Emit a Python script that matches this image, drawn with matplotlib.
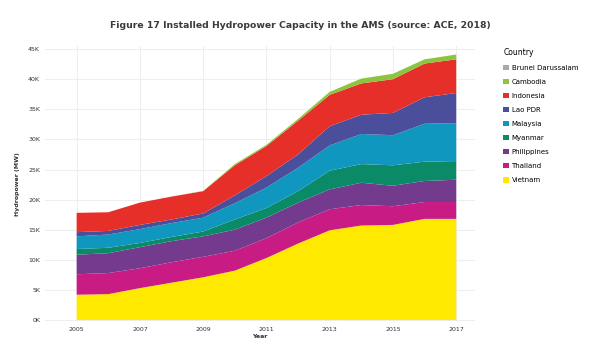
import numpy as np
import matplotlib.pyplot as plt
from matplotlib.patches import Patch
from matplotlib.ticker import FuncFormatter

years = list(range(2005, 2018))

# installed capacity in thousand MW, bottom layer first
vietnam = [4.2, 4.3, 5.3, 6.2, 7.1, 8.2, 10.3, 12.7, 14.9, 15.7, 15.8, 16.8, 16.8]
thailand = [3.4, 3.5, 3.3, 3.4, 3.4, 3.3, 3.3, 3.5, 3.5, 3.4, 3.1, 2.8, 2.8]
philippines = [3.25, 3.3, 3.5, 3.5, 3.4, 3.5, 3.4, 3.3, 3.3, 3.7, 3.4, 3.5, 3.7]
myanmar = [0.95, 0.9, 0.7, 0.7, 0.8, 1.7, 1.6, 1.9, 3.1, 3.1, 3.4, 3.2, 3.1]
malaysia = [2.1, 2.2, 2.3, 2.3, 2.3, 2.7, 3.4, 3.9, 4.2, 5.0, 5.0, 6.3, 6.3]
lao_pdr = [0.7, 0.6, 0.7, 0.6, 0.7, 1.3, 1.9, 2.2, 3.2, 3.2, 3.7, 4.4, 5.0]
indonesia = [3.2, 3.1, 3.7, 3.8, 3.7, 5.0, 5.0, 5.6, 5.2, 5.2, 5.6, 5.6, 5.6]
cambodia = [0.0, 0.0, 0.0, 0.0, 0.05, 0.2, 0.2, 0.3, 0.5, 0.8, 0.9, 0.7, 0.8]
brunei = [0] * 13

countries = ["Vietnam", "Thailand", "Philippines", "Myanmar", "Malaysia",
             "Lao PDR", "Indonesia", "Cambodia", "Brunei Darussalam"]
series = [vietnam, thailand, philippines, myanmar, malaysia,
          lao_pdr, indonesia, cambodia, brunei]
colors = ["#ffe900", "#c81b83", "#743a8e", "#0b8a68", "#0f97c0",
          "#4a4e9b", "#e62f28", "#8cc43f", "#aaaaaa"]

fig = plt.figure(figsize=(6, 3.6), dpi=100)
ax = fig.add_axes([0.075, 0.106, 0.717, 0.766])

ax.stackplot(years, *series, colors=colors, linewidth=0)

ax.set_xlim(2004.0, 2017.6)
ax.set_ylim(-0.3, 45.5)
ax.set_xticks(range(2005, 2018, 2))
ax.set_yticks(range(0, 46, 5))
ax.yaxis.set_major_formatter(FuncFormatter(lambda v, p: f"{int(v)}K"))
ax.tick_params(length=0, labelsize=4.5, colors="#333333")
ax.grid(color="#eeeeee", linewidth=0.8)
ax.set_axisbelow(True)
for s in ax.spines.values():
    s.set_visible(False)

ax.set_xlabel("Year", fontsize=4.5, fontweight="bold", color="#333333", labelpad=2)
ax.set_ylabel("Hydropower (MW)", fontsize=4.5, fontweight="bold", color="#333333", labelpad=6)

fig.text(0.5, 0.93, "Figure 17 Installed Hydropower Capacity in the AMS (source: ACE, 2018)",
         ha="center", va="center", fontsize=6.7, fontweight="bold", color="#3a3a3a")

handles = [Patch(facecolor=c, label=n) for n, c in zip(countries, colors)][::-1]
leg = fig.legend(handles=handles, title="Country", loc="upper left",
                 bbox_to_anchor=(0.834, 0.875), frameon=False, fontsize=5,
                 title_fontsize=5.5, handlelength=0.8, handleheight=0.8,
                 handletextpad=0.4, labelspacing=1.15, borderaxespad=0)
leg._legend_box.align = "left"

fig.savefig("out.png", dpi=100)
